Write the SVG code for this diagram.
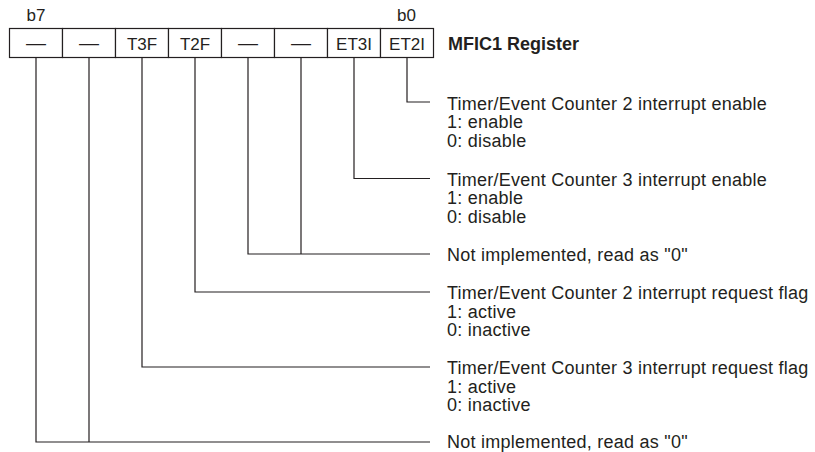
<svg xmlns="http://www.w3.org/2000/svg" width="815" height="452" viewBox="0 0 815 452">
<style>
  text { font-family: "Liberation Sans", Arial, sans-serif; fill: #231f20; }
  .cell { fill: #ffffff; stroke: #231f20; stroke-width: 1.2; }
  .ct { font-size: 17px; text-anchor: middle; }
  .dash { font-size: 20px; text-anchor: middle; }
  .bit { font-size: 17px; }
  .title { font-size: 18px; font-weight: bold; }
  .desc { font-size: 18px; letter-spacing: 0.25px; }
  .conn path { fill: none; stroke: #231f20; stroke-width: 1.2; }
</style>
<g id="register">
  <text class="bit" x="26.5" y="21">b7</text>
  <text class="bit" x="397" y="21">b0</text>
  <rect class="cell" x="9.5" y="28.5" width="53" height="29"/>
  <rect class="cell" x="62.5" y="28.5" width="53" height="29"/>
  <rect class="cell" x="115.5" y="28.5" width="53" height="29"/>
  <rect class="cell" x="168.5" y="28.5" width="53" height="29"/>
  <rect class="cell" x="221.5" y="28.5" width="53" height="29"/>
  <rect class="cell" x="274.5" y="28.5" width="53" height="29"/>
  <rect class="cell" x="327.5" y="28.5" width="53" height="29"/>
  <rect class="cell" x="380.5" y="28.5" width="53" height="29"/>
  <text class="dash" x="36" y="50">—</text>
  <text class="dash" x="89" y="50">—</text>
  <text class="ct" x="142" y="49.5">T3F</text>
  <text class="ct" x="195" y="49.5">T2F</text>
  <text class="dash" x="248" y="50">—</text>
  <text class="dash" x="301" y="50">—</text>
  <text class="ct" x="354" y="49.5">ET3I</text>
  <text class="ct" x="407" y="49.5">ET2I</text>
  <text class="title" x="448" y="50">MFIC1 Register</text>
</g>
<g class="conn" id="connectors">
  <path d="M407 57.5 V102 H430"/>
  <path d="M354 57.5 V178.5 H430"/>
  <path d="M248 57.5 V254 H430 M301 57.5 V254"/>
  <path d="M195 57.5 V292 H430"/>
  <path d="M142 57.5 V367 H430"/>
  <path d="M36 57.5 V442 H430 M89 57.5 V442"/>
</g>
<g id="desc-et2i">
  <text class="desc" x="447" y="109.5">Timer/Event Counter 2 interrupt enable</text>
  <text class="desc" x="447" y="128">1: enable</text>
  <text class="desc" x="447" y="146.5">0: disable</text>
</g>
<g id="desc-et3i">
  <text class="desc" x="447" y="185.5">Timer/Event Counter 3 interrupt enable</text>
  <text class="desc" x="447" y="204">1: enable</text>
  <text class="desc" x="447" y="222.5">0: disable</text>
</g>
<g id="desc-b32">
  <text class="desc" x="447" y="261">Not implemented, read as "0"</text>
</g>
<g id="desc-t2f">
  <text class="desc" x="447" y="299">Timer/Event Counter 2 interrupt request flag</text>
  <text class="desc" x="447" y="317.5">1: active</text>
  <text class="desc" x="447" y="336">0: inactive</text>
</g>
<g id="desc-t3f">
  <text class="desc" x="447" y="374">Timer/Event Counter 3 interrupt request flag</text>
  <text class="desc" x="447" y="392.5">1: active</text>
  <text class="desc" x="447" y="411">0: inactive</text>
</g>
<g id="desc-b76">
  <text class="desc" x="447" y="448">Not implemented, read as "0"</text>
</g>
</svg>
